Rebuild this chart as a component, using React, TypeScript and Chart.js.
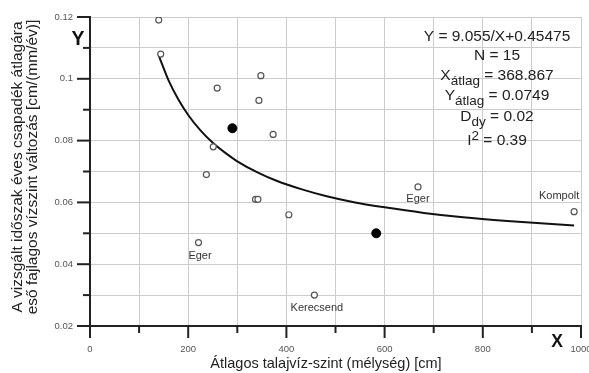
import React, { useEffect, useRef } from 'react';
import { Chart, registerables } from 'chart.js';

Chart.register(...registerables);

// Open circles (N = 15)
const openX = [140, 144, 348, 259, 344, 373, 251, 237, 337, 342, 405, 221, 457, 668, 986];
const openY = [0.119, 0.108, 0.101, 0.097, 0.093, 0.082, 0.078, 0.069, 0.061, 0.061, 0.056, 0.047, 0.030, 0.065, 0.057];
// Filled points
const filledX = [290, 583];
const filledY = [0.084, 0.05];
// Fitted curve
const curveX = [141, 160, 180, 200, 225, 250, 275, 300, 340, 380, 430, 480, 540, 600, 680, 760, 850, 986];
const curveY = [0.1071, 0.0995, 0.0933, 0.0883, 0.0833, 0.0793, 0.0761, 0.0733, 0.0698, 0.067, 0.0643, 0.0621, 0.06, 0.0584, 0.0566, 0.0552, 0.054, 0.0525];

// Axes
const xMin = 0;
const xMax = 1000;
const xStep = 100;
const xLabelEvery = 200;
const yMin = 0.02;
const yMax = 0.12;
const yStep = 0.01;

// Texts
const pointLabelText = ['Eger', 'Kerecsend', 'Eger', 'Kompolt'];
const pointLabelIndex = [11, 12, 13, 14];
const yTitle = ['A vizsgált időszak éves csapadék átlagára', 'eső fajlagos vízszint változás [cm/(mm/év)]'];
const xTitle = 'Átlagos talajvíz-szint (mélység) [cm]';
const yAxisLetter = 'Y';
const xAxisLetter = 'X';
type Seg = { t: string; kind?: 'sub' | 'sup' };
const statLines: Seg[][] = [
  [{ t: 'Y = 9.055/X+0.45475' }],
  [{ t: 'N = 15' }],
  [{ t: 'X' }, { t: 'átlag', kind: 'sub' }, { t: ' = 368.867' }],
  [{ t: 'Y' }, { t: 'átlag', kind: 'sub' }, { t: ' = 0.0749' }],
  [{ t: 'D' }, { t: 'dy', kind: 'sub' }, { t: ' = 0.02' }],
  [{ t: 'I' }, { t: '2', kind: 'sup' }, { t: ' = 0.39' }],
];

const FAMILY = "'Liberation Sans', Arial, Helvetica, sans-serif";

const isMajorX = (v: number) => Math.round(v) % xLabelEvery === 0;
const isMajorY = (v: number) => Math.round(v * 100) % 2 === 0;

// pixel styling for overlay elements
const labelOffsets = [
  { dx: 1.5, dy: 13.5 },
  { dx: 2.5, dy: 13 },
  { dx: 0, dy: 12 },
  { dx: -15, dy: -15.5 },
];
const statBaselines = [41, 60, 80, 100, 121, 145];

const overlayPlugin = {
  id: 'overlay',
  afterDraw(chart: any) {
    const { ctx, chartArea } = chart;
    const xs = chart.scales.x;
    const ys = chart.scales.y;
    ctx.save();

    // tick marks
    ctx.strokeStyle = '#222';
    ctx.lineWidth = 2;
    xs.ticks.forEach((t: any) => {
      const px = xs.getPixelForValue(t.value);
      const len = isMajorX(t.value) ? 12 : 7;
      ctx.beginPath();
      ctx.moveTo(px, chartArea.bottom);
      ctx.lineTo(px, chartArea.bottom + len);
      ctx.stroke();
    });
    ys.ticks.forEach((t: any) => {
      const py = ys.getPixelForValue(t.value);
      const len = isMajorY(t.value) ? 13 : 7;
      ctx.beginPath();
      ctx.moveTo(chartArea.left, py);
      ctx.lineTo(chartArea.left - len, py);
      ctx.stroke();
    });

    // axis titles
    ctx.fillStyle = '#222';
    ctx.font = `15.5px ${FAMILY}`;
    ctx.textAlign = 'center';
    ctx.textBaseline = 'middle';
    const yMid = 167;
    [18, 33].forEach((cx, i) => {
      ctx.save();
      ctx.translate(cx, yMid);
      ctx.rotate(-Math.PI / 2);
      ctx.fillText(yTitle[i], 0, 0);
      ctx.restore();
    });
    ctx.font = `14.5px ${FAMILY}`;
    ctx.textBaseline = 'alphabetic';
    ctx.fillText(xTitle, 326, 368);

    // bold axis letters
    ctx.fillStyle = '#111';
    ctx.font = `bold 19.5px ${FAMILY}`;
    ctx.fillText(yAxisLetter, 78, 45);
    ctx.font = `bold 17.5px ${FAMILY}`;
    ctx.fillText(xAxisLetter, 557, 347);

    // point labels
    ctx.fillStyle = '#333';
    ctx.font = `11px ${FAMILY}`;
    ctx.textBaseline = 'middle';
    pointLabelText.forEach((txt, i) => {
      const idx = pointLabelIndex[i];
      const px = xs.getPixelForValue(openX[idx]);
      const py = ys.getPixelForValue(openY[idx]);
      ctx.fillText(txt, px + labelOffsets[i].dx, py + labelOffsets[i].dy);
    });

    // stats block
    ctx.fillStyle = '#222';
    ctx.textBaseline = 'alphabetic';
    ctx.textAlign = 'left';
    const cx = 497;
    const fontFor = (k?: string) => (k ? `13.5px ${FAMILY}` : `15.5px ${FAMILY}`);
    statLines.forEach((segs, i) => {
      let total = 0;
      segs.forEach((s) => {
        ctx.font = fontFor(s.kind);
        total += ctx.measureText(s.t).width;
      });
      let x = cx - total / 2;
      const base = statBaselines[i];
      segs.forEach((s) => {
        ctx.font = fontFor(s.kind);
        const dy = s.kind === 'sub' ? 5 : s.kind === 'sup' ? -5 : 0;
        ctx.fillText(s.t, x, base + dy);
        x += ctx.measureText(s.t).width;
      });
    });

    ctx.restore();
  },
};

export default function App() {
  const canvasRef = useRef<HTMLCanvasElement | null>(null);

  useEffect(() => {
    document.body.style.margin = '0';
    const canvas = canvasRef.current;
    if (!canvas) return;
    Chart.defaults.font.family = FAMILY;

    const chart = new Chart(canvas, {
      type: 'scatter',
      data: {
        datasets: [
          {
            label: 'open',
            data: openX.map((x, i) => ({ x, y: openY[i] })),
            pointStyle: 'circle',
            pointRadius: 3,
            pointBackgroundColor: '#ffffff',
            pointBorderColor: '#555555',
            pointBorderWidth: 1.2,
            order: 0,
          },
          {
            label: 'filled',
            data: filledX.map((x, i) => ({ x, y: filledY[i] })),
            pointStyle: 'circle',
            pointRadius: 4.5,
            pointBackgroundColor: '#000000',
            pointBorderColor: '#000000',
            pointBorderWidth: 1,
            order: 0,
          },
          {
            label: 'curve',
            type: 'line',
            data: curveX.map((x, i) => ({ x, y: curveY[i] })),
            borderColor: '#111111',
            borderWidth: 2,
            pointRadius: 0,
            showLine: true,
            fill: false,
            cubicInterpolationMode: 'monotone',
            order: 1,
          } as any,
        ],
      },
      options: {
        responsive: false,
        animation: false,
        devicePixelRatio: 1,
        layout: { padding: { top: 17, right: 8, left: 0, bottom: 0 } },
        plugins: {
          legend: { display: false },
          tooltip: { enabled: false },
        },
        scales: {
          x: {
            type: 'linear',
            min: xMin,
            max: xMax,
            afterFit: (s: any) => {
              s.height = 47;
              s.paddingLeft = 0;
              s.paddingRight = 0;
            },
            border: { display: true, color: '#222', width: 2 },
            grid: { color: '#cccccc', lineWidth: 1, drawTicks: false },
            ticks: {
              stepSize: xStep,
              autoSkip: false,
              maxRotation: 0,
              padding: 18,
              color: '#555',
              font: { size: 9.5, family: FAMILY },
              callback: (v: any) => (isMajorX(Number(v)) ? String(Math.round(Number(v))) : ''),
            },
          },
          y: {
            type: 'linear',
            min: yMin,
            max: yMax,
            afterFit: (s: any) => {
              s.width = 90;
              s.paddingTop = 0;
              s.paddingBottom = 0;
            },
            border: { display: true, color: '#222', width: 2 },
            grid: { color: '#cccccc', lineWidth: 1, drawTicks: false },
            ticks: {
              stepSize: yStep,
              autoSkip: false,
              padding: 17,
              color: '#555',
              font: { size: 9.5, family: FAMILY },
              callback: (v: any) => (isMajorY(Number(v)) ? String(+Number(v).toFixed(2)) : ''),
            },
          },
        },
      },
      plugins: [overlayPlugin],
    } as any);

    return () => chart.destroy();
  }, []);

  return (
    <div style={{ width: 589, height: 373, position: 'relative', background: '#fff' }}>
      <canvas ref={canvasRef} width={589} height={373} />
    </div>
  );
}
